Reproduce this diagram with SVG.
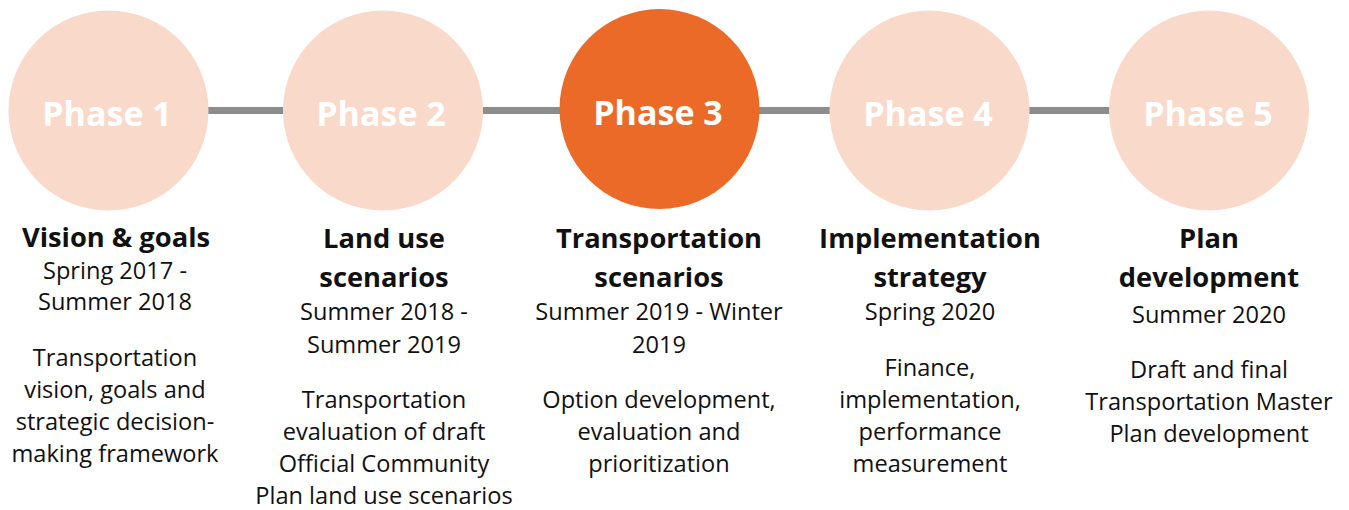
<svg xmlns="http://www.w3.org/2000/svg" width="1349" height="510" viewBox="0 0 1349 510">
<style>
.c{fill:#f9d9ca}
.on{fill:#eb6a28}
.ph{font-family:"Open Sans","Liberation Sans",sans-serif;font-weight:bold;font-size:34px;fill:#ffffff;text-anchor:middle}
.h{font-family:"Open Sans","Liberation Sans",sans-serif;font-weight:bold;font-size:27.3px;fill:#111111;text-anchor:middle}
.t{font-family:"Open Sans","Liberation Sans",sans-serif;font-size:23.6px;fill:#111111;text-anchor:middle}
.ln{stroke:#8c8c8c;stroke-width:7;fill:none}
</style>
<g id="connectors">
<line class="ln" x1="208" y1="110.5" x2="283" y2="110.5"/>
<line class="ln" x1="483" y1="110.5" x2="560" y2="110.5"/>
<line class="ln" x1="759" y1="110.5" x2="830" y2="110.5"/>
<line class="ln" x1="1029" y1="110.5" x2="1110" y2="110.5"/>
</g>
<g id="phase1">
<circle class="c" cx="108.5" cy="110.5" r="100"/>
<text class="ph" x="107" y="126">Phase 1</text>
<text class="h" x="116" y="247">Vision &amp; goals</text>
<text class="t" x="115" y="279">Spring 2017 -</text>
<text class="t" x="115" y="310">Summer 2018</text>
<text class="t" x="115" y="366">Transportation</text>
<text class="t" x="115" y="398">vision, goals and</text>
<text class="t" x="115" y="430">strategic decision-</text>
<text class="t" x="115" y="462">making framework</text>
</g>
<g id="phase2">
<circle class="c" cx="383" cy="110.5" r="100"/>
<text class="ph" x="381" y="126">Phase 2</text>
<text class="h" x="384" y="248">Land use</text>
<text class="h" x="384" y="287">scenarios</text>
<text class="t" x="384" y="320">Summer 2018 -</text>
<text class="t" x="384" y="353">Summer 2019</text>
<text class="t" x="384" y="408">Transportation</text>
<text class="t" x="384" y="440">evaluation of draft</text>
<text class="t" x="384" y="472">Official Community</text>
<text class="t" x="384" y="504">Plan land use scenarios</text>
</g>
<g id="phase3">
<circle class="on" cx="659.5" cy="109" r="100"/>
<text class="ph" x="658" y="125">Phase 3</text>
<text class="h" x="659" y="248">Transportation</text>
<text class="h" x="659" y="287">scenarios</text>
<text class="t" x="659" y="320">Summer 2019 - Winter</text>
<text class="t" x="659" y="353">2019</text>
<text class="t" x="659" y="408">Option development,</text>
<text class="t" x="659" y="440">evaluation and</text>
<text class="t" x="659" y="472">prioritization</text>
</g>
<g id="phase4">
<circle class="c" cx="929.5" cy="110.5" r="100"/>
<text class="ph" x="928" y="126">Phase 4</text>
<text class="h" x="930" y="248">Implementation</text>
<text class="h" x="930" y="287">strategy</text>
<text class="t" x="930" y="320">Spring 2020</text>
<text class="t" x="930" y="376">Finance,</text>
<text class="t" x="930" y="408">implementation,</text>
<text class="t" x="930" y="440">performance</text>
<text class="t" x="930" y="472">measurement</text>
</g>
<g id="phase5">
<circle class="c" cx="1209" cy="110.5" r="100"/>
<text class="ph" x="1208" y="126">Phase 5</text>
<text class="h" x="1209" y="248">Plan</text>
<text class="h" x="1209" y="287">development</text>
<text class="t" x="1209" y="323">Summer 2020</text>
<text class="t" x="1209" y="378">Draft and final</text>
<text class="t" x="1209" y="410">Transportation Master</text>
<text class="t" x="1209" y="442">Plan development</text>
</g>
</svg>
